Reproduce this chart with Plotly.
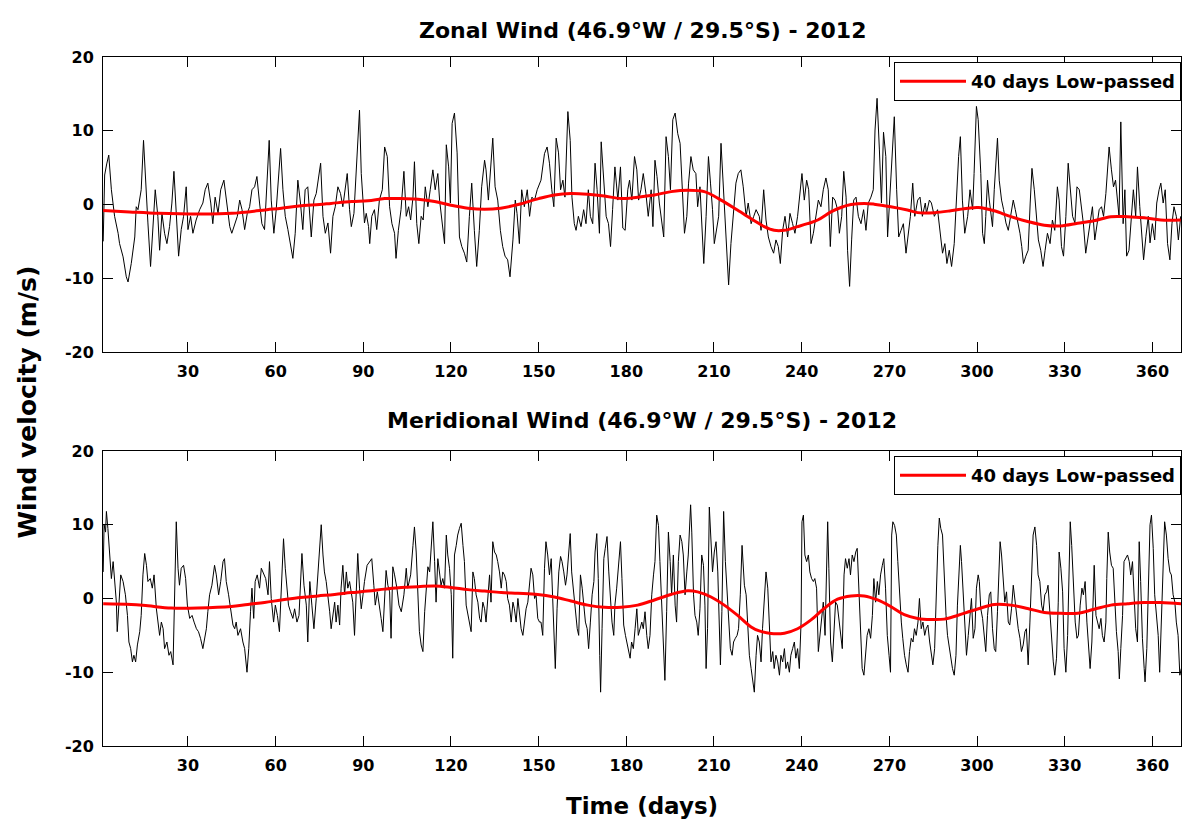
import plotly.graph_objects as go

# ---------------- data ----------------
zonal_days = [1.0, 1.5, 2.2, 2.9, 3.8, 4.9, 6.1, 6.6, 7.8, 8.9, 9.5, 10.6, 11.8, 12.3, 12.9, 14.0, 14.8, 15.5, 16.3, 17.2, 18.0, 18.8, 19.7, 20.3, 21.1, 22.0, 22.8, 23.7, 24.5, 25.2, 26.0, 26.8, 27.7, 28.5, 29.4, 30.0, 30.9, 31.7, 32.8, 34.0, 35.1, 35.9, 36.8, 37.8, 38.5, 39.3, 40.3, 41.2, 42.3, 43.1, 44.3, 45.0, 46.0, 46.9, 47.7, 48.5, 49.4, 50.3, 51.1, 51.9, 52.8, 53.6, 54.5, 55.3, 56.2, 57.0, 57.8, 58.5, 59.4, 60.2, 61.0, 61.7, 62.5, 63.3, 64.2, 65.1, 65.9, 66.7, 67.6, 68.5, 69.3, 70.1, 71.0, 72.2, 73.1, 73.9, 75.0,
              75.4, 76.2, 77.0, 77.9, 78.8, 79.6, 80.4, 81.3, 82.2, 83.0, 83.8, 84.5, 85.3, 85.9, 86.8, 87.6, 88.1, 88.7, 89.3, 89.8, 90.4, 91.0, 91.8, 92.2, 92.9, 93.8, 94.6, 95.5, 96.5, 97.3, 98.2, 99.0, 99.8, 100.7, 101.2, 102.0, 102.9, 103.9, 104.7, 105.5, 106.2, 107.0, 107.5, 108.3, 109.0, 109.8, 110.5, 111.2, 112.1, 112.9, 113.8, 114.6, 115.5, 116.1, 116.9, 117.8, 118.4, 119.2, 119.8, 120.4, 121.2, 122.1, 122.9, 123.7, 124.6, 125.4, 126.3, 127.1, 128.0, 128.8, 129.7, 130.5, 131.5, 132.0, 132.8, 133.5, 134.3, 135.1, 136.0, 136.9, 137.7, 138.5, 139.4, 140.2, 141.2, 142.0, 142.6, 143.4, 144.2, 145.1, 146.1, 146.9, 147.7, 148.6, 149.5,
              150.8, 152.0, 152.9, 153.7, 154.5, 155.2, 156.0, 156.8, 157.5, 158.3, 159.0, 160.0, 160.8, 161.4, 162.2, 162.8, 163.6, 164.5, 165.4, 166.2, 167.0, 167.7, 168.5, 169.3, 170.0, 170.8, 171.4, 172.2, 173.1, 173.9, 174.6, 175.3, 176.1, 177.1, 178.0, 178.8, 179.6, 180.5, 181.1, 181.9, 182.8, 183.6, 184.2, 185.0, 185.8, 186.7, 187.5, 188.5, 189.1, 189.8, 190.5, 191.3, 192.1, 192.8, 193.6, 194.4, 195.1, 195.9, 196.7, 197.6, 198.4, 199.1, 199.9, 200.7, 201.3, 202.1, 202.9, 203.8, 204.4, 205.2, 205.9, 206.5, 207.3, 208.1, 208.8, 209.5, 210.1, 210.9, 211.6, 212.4, 213.2, 213.9, 214.5, 215.0, 215.8, 216.7, 217.5, 218.3, 219.2, 220.0, 221.0, 221.7, 222.7, 223.6, 224.4, 225.5,
              226.1, 227.0, 227.8, 228.6, 229.5, 230.4, 231.2, 232.0, 232.7, 233.5, 234.3, 235.2, 236.0, 236.9, 237.7, 238.6, 239.4, 240.1, 240.9, 241.7, 242.4, 243.2, 244.0, 244.9, 245.7, 246.6, 247.4, 248.3, 249.1, 249.8, 250.6, 251.4, 252.3, 252.9, 253.7, 254.4, 255.2, 255.7, 256.4, 257.1, 257.8, 258.6, 259.4, 260.3, 261.2, 262.0, 262.8, 263.7, 264.5, 265.1, 265.8, 266.6, 267.3, 268.0, 268.8, 269.4, 270.3, 271.1, 271.7, 272.5, 273.2, 274.0, 274.8, 275.7, 276.5, 277.2, 278.0, 278.7, 279.7, 280.5, 281.3, 282.3, 282.7, 283.7, 284.4, 285.4, 286.5, 287.4, 288.2, 289.0, 289.7, 290.5, 291.3, 292.2, 293.0, 293.7, 294.3, 295.0, 295.8, 296.8, 297.6, 298.5, 299.0, 299.8, 300.4,
              301.3, 301.9, 302.5, 303.0, 303.6, 304.2, 304.7, 305.3, 305.9, 306.5, 307.0, 307.6, 308.4, 309.1, 309.9, 310.7, 311.6, 312.4, 313.1, 313.9, 314.7, 315.3, 315.9, 316.7, 317.5, 318.2, 318.8, 319.6, 320.4, 321.0, 321.8, 322.6, 323.3, 324.1, 325.0, 325.8, 326.6, 327.5, 328.1, 328.9, 329.6, 330.4, 331.2, 331.9, 332.7, 333.5, 334.2, 335.0, 335.5, 336.4, 337.2, 338.0, 338.7, 339.5, 340.3, 341.0, 341.8, 342.6, 343.3, 344.1, 344.6, 345.2, 346.0, 346.7, 347.4, 348.1, 348.6, 349.2, 350.0, 350.6, 351.2, 352.0, 352.8, 353.5, 354.3, 354.9, 355.7, 356.4, 357.0, 357.8, 358.6, 359.2, 360.0, 360.8, 361.5, 362.3, 362.9, 363.7, 364.4, 365.2, 366.0, 366.7, 367.4, 368.2, 368.9, 369.7]
zonal_vals = [-5.0, 4.0, 5.5, 6.7, 2.0, -1.6, -3.9, -5.3, -7.1, -9.8, -10.5, -8.0, -4.4, -0.3, -0.7, 2.0, 8.7, 4.2, -2.5, -8.4, -3.5, 2.0, -1.6, -6.2, -1.2, -3.9, -5.3, -3.0, 0.2, 4.5, -1.2, -7.0, -3.4, -1.6, 2.4, -3.4, -1.6, -3.9, -2.1, -0.7, 0.2, 2.0, 2.9, 0.2, -2.6, 1.0, -1.2, 2.0, 3.3, 0.6, -3.0, -3.9, -2.6, -1.6, 0.6, -0.7, -3.4, -1.2, -0.3, 2.0, 2.4, 3.8, 0.2, -2.6, -3.4, 2.0, 8.7, 0.6, -3.9, -0.7, 3.3, 7.6, 2.0, -1.6, -3.4, -5.3, -7.3, -3.9, 3.3, 0.2, -3.4, 2.0, 2.4, -4.4, 0.6, 1.5, 5.1,
              5.6, -1.6, -3.9, -2.5, -6.6, -1.6, -0.3, 2.4, 1.5, -0.3, 2.0, 4.2, -0.7, -3.0, -1.2, 4.7, 7.2, 12.8, 4.2, 0.6, -2.5, -1.2, -3.0, -5.3, -1.6, -0.7, -3.4, 0.6, 2.0, 7.8, 6.5, -0.3, -2.6, -3.9, -7.3, -3.5, -0.7, 4.5, -1.6, -0.3, -2.1, 1.0, 5.8, -2.6, -5.3, -1.6, -2.1, 2.4, -0.3, 2.0, 4.7, 2.0, 4.2, 0.6, -2.6, -5.3, 8.1, 5.1, 0.2, 11.0, 12.4, 7.0, -4.4, -5.7, -6.6, -7.8, -1.6, 2.9, -3.5, -8.4, -3.5, 2.4, 6.0, 4.7, 0.6, 5.1, 9.0, 2.4, 0.6, -3.5, -5.7, -7.0, -7.5, -9.8, -4.8, 0.6, -1.2, -5.3, 2.0, -0.3, 2.0, -1.6, 1.0, 0.6, 2.0,
              3.3, 6.9, 7.8, 5.6, 2.0, -0.3, 9.0, 7.0, 2.0, 3.3, 1.0, 12.6, 8.7, 1.0, -2.6, -3.5, -1.6, -3.0, -0.7, -2.6, 2.0, -1.6, -2.6, 5.6, 2.0, -3.9, 8.5, 4.2, -1.6, -2.6, -5.7, -0.7, 5.1, 0.6, 5.1, -3.2, -3.5, 2.0, 3.3, 0.6, 6.5, 4.7, 0.6, 2.0, 4.2, 1.5, -1.6, 2.0, -3.0, 6.0, 3.8, 0.2, -2.6, -4.4, 9.2, 6.5, 2.0, 11.5, 12.4, 9.6, 8.3, 2.0, -3.9, -1.6, 2.9, 6.5, 4.7, 4.2, -0.3, 2.4, -4.4, -8.0, -1.6, 6.5, 2.9, -0.7, -5.3, -3.5, -1.6, 8.3, 2.0, -2.5, -8.0, -10.9, -5.3, -0.7, 2.9, 4.2, 4.7, 2.4, -1.6, 0.2, -2.6, -1.6, -0.7, -1.6,
              -3.5, 2.0, -2.1, -4.4, -5.7, -6.6, -4.8, -5.7, -8.0, -3.5, -1.6, -4.4, -1.2, -2.6, -3.9, -1.6, 2.0, 4.2, 0.6, 3.3, 2.0, -5.3, -3.9, -1.6, 0.6, -0.3, 2.0, 3.6, 2.0, -5.7, 1.0, 0.6, -0.7, -3.9, -1.6, 4.5, 1.0, -6.2, -11.1, -4.8, 0.6, 1.0, -1.6, -2.6, -0.7, -3.5, 0.2, 1.0, 2.0, 10.1, 14.4, 7.4, 0.2, 9.8, 6.5, -4.4, 2.0, 6.5, 11.9, 2.0, -4.4, -3.5, -2.6, -6.6, -3.5, -1.6, 2.9, -1.6, 0.6, 1.0, -1.6, 0.2, -1.2, 0.6, 0.2, -1.6, -0.7, -3.5, -6.6, -5.3, -8.0, -6.2, -8.4, -5.3, 2.0, 6.5, 9.2, 0.6, -3.9, -1.6, 2.0, -0.7, 4.2, 13.3, 11.5,
              4.2, -3.9, -5.3, -1.6, 3.3, 0.6, -1.2, -3.0, 2.0, 6.5, 9.0, 3.3, 0.6, -0.7, -2.5, -3.5, -1.6, 0.6, -0.7, -2.1, -3.9, -5.7, -8.0, -7.0, -6.2, 0.2, 4.9, 2.0, -1.6, -4.8, -6.2, -8.4, -6.2, -3.9, -5.3, -2.1, -3.5, 2.4, 0.6, -5.7, -7.0, -1.6, 5.6, 2.0, -1.6, -2.5, 2.4, 2.0, 0.2, -2.6, -6.6, -4.4, -2.6, -0.3, -4.8, -3.0, -0.7, -0.3, -1.6, 1.5, 5.1, 7.8, 4.7, 2.4, 3.3, -0.3, -1.6, 11.2, -2.6, 2.0, -7.0, -6.2, -1.6, 2.0, -1.6, 5.1, -0.3, -3.9, -7.5, -4.3, -1.6, -5.2, -2.6, -4.8, 0.2, 2.0, 2.9, 0.2, 2.0, -5.3, -7.5, -2.6, -0.3, -1.6, -4.8, -1.6]

zonal_lp_days = [1, 10, 20, 35, 45, 57, 62, 68, 75, 79, 86, 91.6, 97.3, 103, 108.7, 114.4, 120, 125.8, 131.5, 137, 143, 150, 155.4, 161, 166.8, 172.5, 178.2, 183.9, 189.6, 195.3, 201, 206.7, 212.4, 218, 223.8, 227.2, 230.6, 234, 238.6, 242, 245.5, 250, 253.4, 256.9, 261.4, 264.8, 270.5, 276.2, 279.7, 285.4, 291, 296.8, 300.5, 305.9, 311.6, 317.3, 323, 328.7, 334.4, 340, 345.8, 351.5, 357.2, 362.9, 369.7]
zonal_lp_vals = [-0.8, -1.0, -1.2, -1.3, -1.2, -0.7, -0.5, -0.2, 0.0, 0.15, 0.4, 0.5, 0.8, 0.8, 0.7, 0.4, -0.1, -0.5, -0.65, -0.5, 0.0, 0.8, 1.3, 1.5, 1.4, 1.15, 0.8, 1.0, 1.3, 1.75, 1.95, 1.75, 0.6, -0.75, -2.2, -3.0, -3.5, -3.5, -3.0, -2.6, -2.1, -1.0, -0.4, 0.0, 0.15, 0.05, -0.3, -0.75, -1.1, -1.1, -0.85, -0.5, -0.4, -0.85, -1.65, -2.3, -2.8, -2.9, -2.55, -2.2, -1.65, -1.65, -1.8, -2.1, -2.1]

merid_days = [1.0, 1.3, 1.8, 2.1, 2.6, 3.2, 3.8, 4.4, 4.9, 5.5, 5.8, 6.3, 7.0, 7.8, 8.6, 9.3, 9.8, 10.4, 11.0, 11.5, 12.1, 12.7, 13.5, 14.0, 14.6, 15.2, 15.8, 16.3, 17.1, 17.8, 18.4, 19.2, 19.7, 20.3, 20.9, 21.5, 22.0, 22.8, 23.5, 24.1, 24.9, 25.4, 26.0, 26.6, 27.1, 27.7, 28.5, 29.2, 29.8, 30.6, 31.4, 32.1, 32.9, 33.6, 34.3, 35.1, 35.7, 36.3, 36.8, 37.4, 38.2, 39.1, 39.7, 40.5, 41.2, 42.0, 42.5, 43.1, 43.9, 44.6, 45.4, 46.0, 46.5, 47.1, 48.0, 48.8, 49.4, 50.2, 50.8, 51.4, 51.9, 52.5, 53.0, 53.7, 54.5, 55.1, 55.9, 56.6, 57.4, 57.9, 58.5, 59.3, 59.9, 60.6, 61.3, 61.9, 62.3, 62.7, 63.3, 64.0, 64.4, 65.1, 65.9, 66.5, 67.3, 68.0, 68.4, 69.0, 69.7, 70.5, 71.0, 71.7, 72.4, 73.1, 73.9, 74.5,
              75.0, 75.6, 76.2, 76.7, 77.3, 77.9, 78.5, 79.0, 79.6, 80.2, 80.7, 81.3, 81.9, 82.4, 83.0, 83.6, 84.2, 84.7, 85.3, 85.9, 86.4, 87.0, 87.6, 88.1, 88.7, 89.3, 89.9, 90.4, 91.3, 92.1, 92.9, 93.6, 94.1, 94.8, 95.6, 96.1, 96.7, 97.3, 97.8, 98.4, 99.0, 99.5, 100.1, 100.7, 101.5, 102.2, 103.0, 103.9, 104.7, 105.2, 106.2, 107.0, 107.5, 108.1, 108.7, 109.2, 109.8, 110.4, 111.0, 111.5, 112.1, 112.7, 113.2, 113.8, 114.4, 114.9, 115.5, 116.1, 116.6, 117.2, 117.8, 118.4, 118.9, 119.5, 120.1, 120.6, 121.2, 121.8, 122.3, 122.9, 123.5, 124.1, 124.6, 125.2, 125.8, 126.3, 126.9, 127.5, 128.0, 128.6, 129.2, 129.8, 130.3, 130.9, 131.5, 132.0, 132.6, 133.2, 133.7, 134.3, 134.9, 135.5, 136.0, 136.6, 137.2, 137.7, 138.3, 138.9, 139.4, 140.0, 140.6, 141.2, 141.7, 142.3, 142.9, 143.4, 144.0, 144.6, 145.1, 145.7, 146.3, 146.9, 147.4, 148.0, 148.6, 149.1, 149.7, 150.3,
              150.8, 151.4, 152.0, 152.5, 153.1, 153.7, 154.3, 154.8, 155.4, 155.7, 156.3, 156.9, 157.5, 158.0, 158.6, 159.2, 159.7, 160.3, 160.8, 161.3, 161.9, 162.5, 163.2, 163.7, 164.3, 164.9, 165.4, 166.0, 166.6, 167.1, 167.7, 168.3, 168.9, 169.3, 169.9, 170.4, 170.9, 171.2, 171.7, 172.3, 172.8, 173.4, 174.0, 174.6, 175.1, 175.7, 176.1, 176.7, 177.4, 178.0, 178.5, 179.1, 179.7, 180.2, 180.7, 181.3, 181.8, 182.4, 183.0, 183.6, 184.1, 184.7, 185.3, 185.8, 186.4, 187.0, 187.5, 188.1, 188.7, 189.3, 189.8, 190.4, 191.0, 191.5, 192.1, 192.7, 193.2, 193.8, 194.4, 195.0, 195.5, 196.1, 196.7, 197.2, 197.8, 198.4, 199.0, 199.5, 200.1, 200.7, 201.2, 202.0, 202.4, 203.0, 203.5, 204.1, 204.6, 205.2, 205.8, 206.4, 206.9, 207.3, 207.8, 208.4, 209.0, 209.5, 210.1, 210.7, 211.3, 211.8, 212.2, 212.7, 213.3, 213.9, 214.5, 215.0, 215.6, 216.2, 216.7, 217.3, 217.9, 218.4, 219.0, 219.6, 219.8, 220.4, 221.0, 221.5, 222.1, 222.7, 223.2, 223.8, 224.4, 224.9,
              225.5, 226.1, 226.6, 227.2, 227.8, 228.4, 228.9, 229.5, 230.1, 230.6, 231.2, 231.8, 232.4, 232.9, 233.5, 234.1, 234.6, 235.2, 235.8, 236.3, 236.9, 237.5, 238.0, 238.6, 239.2, 239.8, 240.1, 240.6, 241.1, 241.7, 242.3, 242.8, 243.4, 244.0, 244.5, 245.1, 245.7, 246.3, 246.8, 247.4, 248.0, 248.5, 248.9, 249.3, 249.9, 250.5, 251.0, 251.6, 252.2, 252.8, 253.3, 253.9, 254.5, 255.0, 255.6, 256.2, 256.7, 257.3, 257.9, 258.5, 259.0, 259.6, 260.2, 260.7, 261.3, 261.9, 262.4, 263.0, 263.6, 264.2, 264.7, 265.3, 265.9, 266.4, 267.0, 267.6, 268.1, 268.7, 269.3, 269.9, 270.4, 270.8, 271.2, 271.8, 272.4, 272.9, 273.5, 274.1, 274.6, 275.2, 275.8, 276.4, 276.9, 277.5, 278.1, 278.6, 279.2, 279.8, 280.3, 280.9, 281.5, 282.1, 282.6, 283.2, 283.8, 284.3, 284.9, 285.5, 286.0, 286.6, 287.1, 287.6, 288.2, 288.8, 289.4, 289.9, 290.5, 291.1, 291.6, 292.2, 292.8, 293.3, 293.9, 294.3, 294.7, 295.3, 295.9, 296.4, 297.0, 297.6, 298.1, 298.7, 299.3, 299.8, 300.4,
              300.8, 301.3, 301.9, 302.5, 303.0, 303.6, 304.2, 304.7, 305.3, 305.9, 306.4, 307.0, 307.6, 307.9, 308.4, 309.0, 309.5, 310.1, 310.7, 311.2, 311.8, 312.4, 312.9, 313.5, 314.1, 314.7, 315.2, 315.8, 316.4, 316.9, 317.5, 318.1, 318.7, 319.2, 319.8, 320.4, 320.9, 321.5, 322.1, 322.6, 323.2, 323.8, 324.3, 324.9, 325.5, 326.1, 326.6, 327.2, 327.8, 328.1, 328.7, 329.3, 329.8, 330.4, 331.0, 331.5, 331.9, 332.4, 333.0, 333.6, 334.2, 334.7, 335.3, 335.9, 336.4, 337.0, 337.6, 338.1, 338.7, 339.3, 339.9, 340.1, 340.7, 341.2, 341.8, 342.4, 342.9, 343.5, 344.1, 344.4, 344.9, 345.4, 346.0, 346.6, 347.1, 347.7, 348.3, 348.7, 349.2, 349.8, 350.3, 350.9, 351.5, 352.1, 352.6, 353.2, 353.8, 354.3, 354.9, 355.5, 356.0, 356.6, 357.2, 357.5, 358.1, 358.7, 359.2, 359.7, 360.3, 360.8, 361.4, 362.0, 362.5, 363.1, 363.7, 364.2, 364.8, 365.4, 366.0, 366.5, 367.1, 367.7, 368.2, 368.8, 369.4, 369.9]
merid_vals = [3.6, 10.0, 9.0, 11.8, 9.5, 5.4, 2.7, 5.0, 1.8, -0.5, -4.5, -0.9, 3.2, 2.3, 0.5, -2.3, -5.9, -6.8, -8.6, -7.7, -8.6, -6.3, -4.5, -2.3, 3.2, 6.1, 4.5, 2.3, 2.7, 1.4, 3.2, -1.4, -3.2, -5.0, -3.2, -4.1, -6.8, -5.9, -7.7, -7.2, -9.0, -0.5, 10.4, 4.1, 1.8, 4.1, 4.5, 2.7, -0.9, -2.7, -2.3, -3.2, -4.1, -4.5, -5.4, -6.8, -5.4, -4.1, -1.8, 0.5, 1.8, 4.5, 3.2, 0.5, 2.3, 5.0, 5.4, 2.3, 0.5, -1.4, -3.6, -4.1, -3.2, -5.0, -4.1, -5.9, -6.8, -10.0, -6.8, -1.8, 1.4, -2.7, 2.3, 3.2, 1.4, 4.1, 3.2, 2.7, 0.5, 5.0, 0.0, -3.2, -0.9, -2.3, -4.5, 0.9, 5.0, 8.1, 4.1, 0.5, -0.9, -1.8, -2.7, -1.4, -3.2, -2.3, 0.9, 6.1, 1.8, -0.9, -5.9, 2.3, -0.9, -4.1, 0.0, 3.6,
              5.9, 10.0, 5.9, 3.6, 2.3, 0.5, -1.8, -4.1, -2.3, -0.5, -3.2, -0.9, -3.6, 1.4, 4.5, 0.5, 3.6, 1.4, 2.3, 0.5, -0.5, -5.0, 2.7, 6.1, 1.4, -1.4, 0.5, 2.3, 4.5, 5.0, 5.4, 1.8, -0.9, 0.9, -1.8, -2.7, -4.5, 0.5, 3.8, 1.8, 0.9, -5.4, 4.3, 3.2, 1.4, -0.9, -1.8, 0.5, 4.1, 1.4, 3.2, 7.2, 9.7, 6.3, 0.5, -4.5, -6.3, -7.2, -1.8, 1.8, 4.3, 3.6, 6.3, 10.4, 5.0, -0.5, 5.4, 3.6, 1.8, 2.7, 1.4, 8.6, 5.9, 4.1, 0.5, -8.1, 5.9, 7.2, 8.6, 9.5, 10.2, 7.2, 5.0, -0.9, -2.3, -3.2, -4.5, 3.6, 2.7, 0.5, -0.5, -2.7, -3.2, -0.5, -1.4, -3.2, 0.5, 3.2, -0.5, 7.7, 6.3, 5.9, 5.0, 3.6, 1.4, 3.6, 3.2, 2.3, 0.0, -0.9, -3.2, -0.5, -1.4, -3.2, 0.0, -2.3, -4.1, -5.0, -3.2, -1.4, -0.5, 2.7, 4.1, 3.2, 0.0, 0.5, -2.7, -3.2,
              -3.2, -5.0, 4.1, 7.7, 5.9, 3.2, 5.4, 0.0, -5.0, -9.5, -1.4, 3.6, 5.7, 5.0, 3.6, 1.8, 3.2, 6.3, 8.8, 3.6, 1.4, -0.9, -4.1, -5.0, 3.2, 1.4, -0.5, -3.2, -4.1, -6.8, -3.2, 0.5, 2.3, 6.3, 8.8, 2.7, -7.7, -12.7, -4.1, 5.4, 6.8, 8.4, 3.6, -0.5, -3.2, -5.0, -0.9, 1.4, 5.0, 7.7, 2.7, -3.6, -5.0, -5.9, -6.8, -8.1, -5.9, -6.8, -4.1, -1.4, -5.0, -4.1, -3.2, -4.1, -1.8, -5.0, -6.8, -5.0, 0.5, 3.2, 5.0, 11.3, 9.9, 5.0, -0.9, -7.7, -11.1, -1.8, 9.0, 5.0, 0.5, 5.9, -0.9, -3.2, 5.0, 8.6, 7.7, 5.9, 0.5, 3.6, 5.9, 12.7, 9.0, 0.5, -2.3, -3.2, -5.0, -1.4, 5.9, 4.5, -0.9, -9.5, -4.1, 12.4, 7.2, 3.6, 6.3, 7.7, 3.6, -3.2, -9.0, -1.8, 11.8, 5.0, 0.9, -3.2, -6.8, -7.7, -5.9, -5.4, -5.0, -4.1, 0.5, 7.2, 5.4, 1.8, 0.5, -2.7, -7.7, -9.5, -11.3, -12.7, -7.7, -5.0,
              -5.9, -8.6, -4.1, 0.5, 3.6, 1.4, -4.1, -8.6, -7.2, -9.5, -7.7, -8.6, -10.4, -7.7, -8.6, -6.8, -9.5, -8.6, -10.0, -7.7, -6.8, -5.9, -8.1, -6.8, -9.5, -3.2, 10.4, 11.3, 5.9, 5.0, 5.9, 3.6, 2.7, 2.3, 2.7, 1.4, -7.2, -5.0, -2.3, -0.5, -5.0, 3.6, 10.4, 4.1, -5.9, -8.6, -4.1, -0.5, -0.9, -3.2, -5.0, -6.8, 3.2, 5.4, 4.1, 5.4, 3.2, 5.9, 5.0, 6.3, 6.8, 0.5, -4.1, -9.5, -10.4, -7.7, -5.0, -4.1, -5.4, -2.3, 2.7, -0.5, 2.3, 0.5, 3.2, 4.5, 5.4, 1.4, -5.0, -7.7, -10.0, 8.6, 10.4, 9.9, 8.6, 5.0, 0.5, -3.2, -5.4, -7.7, -9.0, -10.0, -7.2, -5.4, -5.9, -4.1, -5.0, -3.2, 0.0, -4.1, -3.2, -5.0, -4.1, -3.6, -5.9, -7.7, -9.0, -6.8, 0.5, 7.2, 10.9, 9.5, 8.6, 2.3, -2.3, -5.0, -6.8, -8.1, -9.5, -10.4, -7.7, -0.9, 5.0, 7.2, 5.0, 0.5, -4.1, -7.7, -5.0, -1.8, 0.0, -5.4, -4.1, 1.4, 3.2,
              2.3, -1.4, -2.7, -5.0, -7.2, -2.3, 0.5, 0.9, -4.1, -6.8, -7.2, -1.8, 3.6, 7.7, 5.9, 1.8, -0.5, 0.9, -3.2, -3.6, -1.4, 1.8, 0.0, -1.8, -4.1, -5.4, -7.2, -6.3, -4.5, -4.1, -9.0, -3.2, 3.2, 8.6, 9.7, 7.2, 3.2, 2.3, -0.9, -1.8, 0.5, 0.9, 1.8, -1.8, -4.1, -8.6, -10.4, -8.1, -0.5, 6.3, 4.1, 0.9, -6.8, -10.0, -5.0, 2.3, 10.4, 7.2, 1.8, -3.2, -5.4, -5.0, -0.9, 1.4, 0.5, 2.3, -3.2, -6.3, -9.5, -5.9, 0.5, 4.5, -2.3, -3.2, -4.1, -2.7, -5.0, -5.9, -3.2, 2.7, 9.0, 6.3, 4.5, 4.1, -0.9, -4.5, -7.2, -10.9, -6.8, -2.3, 5.0, 5.4, 5.9, 5.0, 3.2, 5.0, -0.5, -4.1, -5.9, 7.7, 2.3, -5.4, -9.5, -11.3, -6.8, 2.7, 10.0, 11.3, 6.8, 0.5, -2.7, -5.0, -10.0, -3.2, 2.3, 10.4, 8.6, 5.4, 3.6, 3.2, 0.5, -0.5, -3.2, -5.0, -10.4, -9.5]

merid_lp_days = [1, 10.6, 16.3, 24.3, 33.4, 44.8, 50.5, 56.2, 61.9, 67.6, 74.5, 80.2, 85.9, 91.6, 97.3, 103, 108.7, 114.4, 120, 125.8, 131.5, 137.2, 142.9, 149.7, 155.4, 161.1, 166.8, 172.5, 178.2, 183.9, 189.6, 195.3, 201, 204.4, 209, 213.5, 218.1, 222.7, 225.5, 229.5, 234.1, 238.6, 243.2, 247.7, 252.3, 256.9, 261.4, 266, 270.5, 275.1, 279.7, 284.2, 288.8, 293.3, 297.9, 300.8, 305.9, 311.6, 317.3, 323, 328.7, 334.4, 340.1, 345.8, 351.5, 357.2, 362.9, 369.9]
merid_lp_vals = [-0.7, -0.8, -1.0, -1.3, -1.3, -1.1, -0.8, -0.55, -0.2, 0.1, 0.35, 0.55, 0.8, 1.0, 1.27, 1.5, 1.6, 1.7, 1.5, 1.2, 1.0, 0.8, 0.7, 0.55, 0.2, -0.35, -0.9, -1.2, -1.2, -0.9, -0.2, 0.55, 1.05, 0.9, 0.2, -0.9, -2.3, -3.85, -4.4, -4.75, -4.7, -4.1, -2.9, -1.35, -0.1, 0.35, 0.35, -0.2, -1.1, -2.2, -2.7, -2.85, -2.8, -2.3, -1.7, -1.35, -0.8, -0.9, -1.35, -1.9, -2.0, -2.0, -1.45, -0.9, -0.7, -0.55, -0.55, -0.7]

x_ticks = [30, 60, 90, 120, 150, 180, 210, 240, 270, 300, 330, 360]
y_ticks = [-20, -10, 0, 10, 20]
y_tick_labels = ["-20", "-10", "0", "10", "20"]
x_range = [0.93, 369.8]
y_range = [-20, 20]

title_top = "Zonal Wind (46.9°W / 29.5°S) - 2012"
title_bottom = "Meridional Wind (46.9°W / 29.5°S) - 2012"
legend_label = "40 days Low-passed"
ylabel = "Wind velocity (m/s)"
xlabel = "Time (days)"

# ---------------- figure ----------------
FONT = "DejaVu Sans, Verdana, sans-serif"

fig = go.Figure()
fig.add_trace(go.Scatter(x=zonal_days, y=zonal_vals, mode="lines",
                         line=dict(color="black", width=1), showlegend=False,
                         xaxis="x", yaxis="y"))
fig.add_trace(go.Scatter(x=zonal_lp_days, y=zonal_lp_vals, mode="lines",
                         line=dict(color="#ff0000", width=3, shape="spline"),
                         name=legend_label, legend="legend", xaxis="x", yaxis="y"))
fig.add_trace(go.Scatter(x=merid_days, y=merid_vals, mode="lines",
                         line=dict(color="black", width=1), showlegend=False,
                         xaxis="x2", yaxis="y2"))
fig.add_trace(go.Scatter(x=merid_lp_days, y=merid_lp_vals, mode="lines",
                         line=dict(color="#ff0000", width=3, shape="spline"),
                         name=legend_label, legend="legend2", xaxis="x2", yaxis="y2"))

axis_common = dict(showline=True, linecolor="black", linewidth=1, mirror="ticks",
                   ticks="inside", ticklen=10, tickwidth=1, tickcolor="black",
                   showgrid=False, zeroline=False,
                   tickfont=dict(family=FONT, size=16, color="black", weight="bold"))

legend_style = dict(bgcolor="white", bordercolor="black", borderwidth=1,
                    font=dict(family=FONT, size=18, color="black", weight="bold"),
                    itemwidth=66, xanchor="right", yanchor="top", x=1)

fig.update_layout(
    width=1182, height=823,
    margin=dict(l=103, r=1, t=57, b=77),
    paper_bgcolor="white", plot_bgcolor="white",
    xaxis=dict(domain=[0, 1], anchor="y", range=x_range, tickvals=x_ticks,
               ticklabelstandoff=5, **axis_common),
    yaxis=dict(domain=[0.5718, 1], anchor="x", range=y_range, tickvals=y_ticks,
               ticktext=y_tick_labels, ticklabelstandoff=5, **axis_common),
    xaxis2=dict(domain=[0, 1], anchor="y2", range=x_range, tickvals=x_ticks,
                ticklabelstandoff=5, **axis_common),
    yaxis2=dict(domain=[0, 0.4282], anchor="x2", range=y_range, tickvals=y_ticks,
                ticktext=y_tick_labels, ticklabelstandoff=5, **axis_common),
    legend=dict(y=0.9927, **legend_style),
    legend2=dict(y=0.4209, **legend_style),
    annotations=[
        dict(text=title_top, xref="paper", yref="paper", x=0.5, y=1.039,
             showarrow=False, xanchor="center", yanchor="middle",
             font=dict(family=FONT, size=22, color="black", weight="bold")),
        dict(text=title_bottom, xref="paper", yref="paper", x=0.5, y=0.4717,
             showarrow=False, xanchor="center", yanchor="middle",
             font=dict(family=FONT, size=22, color="black", weight="bold")),
        dict(text=xlabel, xref="paper", yref="paper", x=0.5, y=-0.087,
             showarrow=False, xanchor="center", yanchor="middle",
             font=dict(family=FONT, size=23, color="black", weight="bold")),
        dict(text=ylabel, xref="paper", yref="paper", x=-0.0696, y=0.5,
             showarrow=False, xanchor="center", yanchor="middle", textangle=-90,
             font=dict(family=FONT, size=25, color="black", weight="bold")),
    ],
)

fig.write_html("out.html")
